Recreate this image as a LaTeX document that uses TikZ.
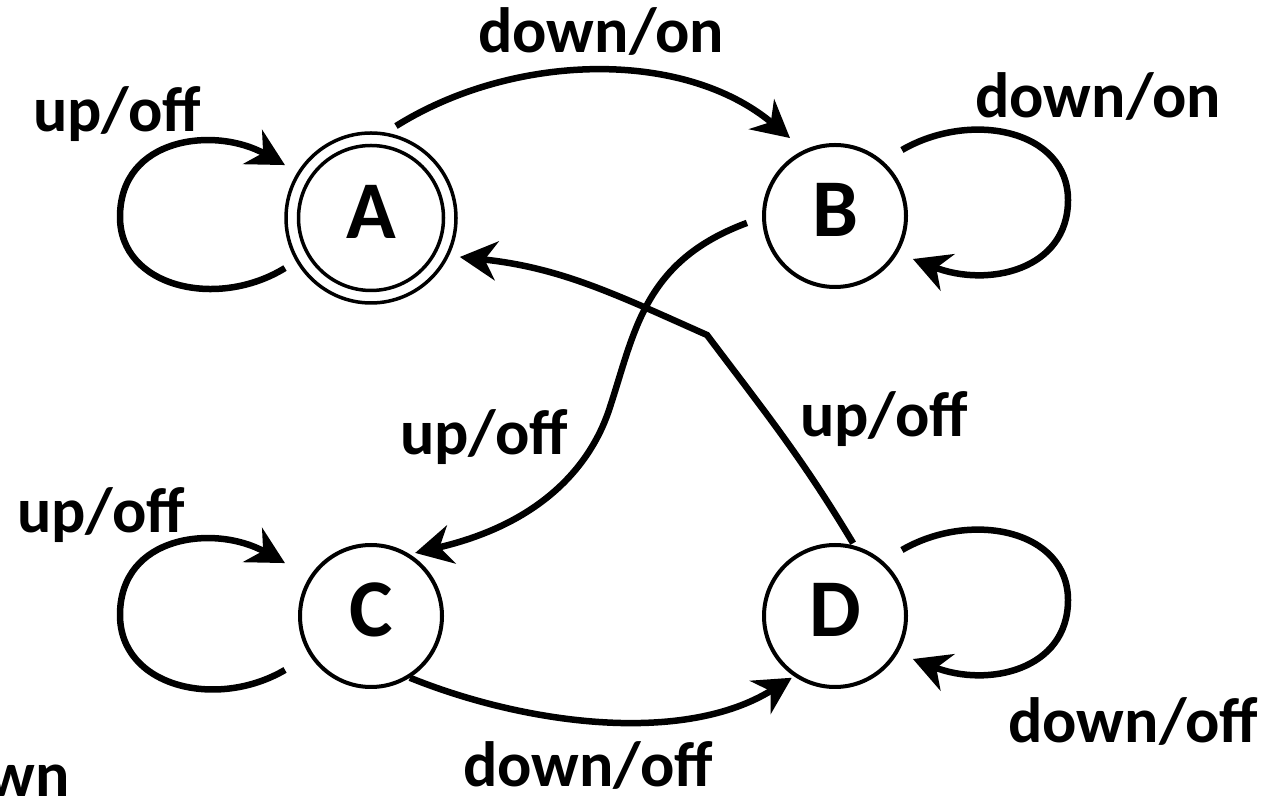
\documentclass[tikz,border=0pt]{standalone}
\usepackage{fontspec}
\setmainfont{Carlito}
\usetikzlibrary{arrows.meta}
\tikzset{
  state/.style={circle, draw, line width=4pt, minimum size=142pt, inner sep=0pt, outer sep=0pt,
    text height=53pt, text depth=12pt, font=\fontsize{82}{82}\selectfont\bfseries},
  edge/.style={line width=6.5pt, -{Stealth[length=37pt,width=39pt,inset=12pt]}},
  lbl/.style={font=\fontsize{64}{64}\selectfont\bfseries, anchor=base, inner sep=0pt}
}
\begin{document}
\begin{tikzpicture}[x=1pt,y=1pt]
\useasboundingbox (0,0) rectangle (1274,800);
\clip (0,0) rectangle (1274,800);
% states
\node[state, minimum size=170pt, line width=3.5pt] (A) at (371,582) {A};
\draw[line width=3.5pt] (A.center) circle (72.5pt);
\node[state] (B) at (835,584) {B};
\node[state] (C) at (371,184) {C};
\node[state] (D) at (835,184) {D};
% self loops
\draw[edge] ([shift={(210.2:99.5)}]A.center) .. controls (217,490) and (120,513) .. (120,583)
  .. controls (120,663) and (215,674) .. ([shift={(148.4:101)}]A.center);
\draw[edge] ([shift={(212.1:101.5)}]C.center) .. controls (217,90) and (120,113) .. (120,185)
  .. controls (120,265) and (215,276) .. ([shift={(148.4:101)}]C.center);
\draw[edge] ([shift={(44.6:94)}]B.center) .. controls (971,690) and (1068,670) .. (1068,600)
  .. controls (1068,530) and (988,512) .. ([shift={(-28.9:89)}]B.center);
\draw[edge] ([shift={(44.6:94)}]D.center) .. controls (971,290) and (1068,270) .. (1068,200)
  .. controls (1068,130) and (988,112) .. ([shift={(-28.9:89)}]D.center);
% transitions
\draw[edge] ([shift={(74.8:95.3)}]A.center) to[out=32, in=140, looseness=0.9] ([shift={(120:90)}]B.center);
\draw[edge] ([shift={(184.5:88.3)}]B.center) .. controls (644,539) and (635,469) .. (610,393)
  .. controls (598,355) and (561,281) .. ([shift={(55:77)}]C.center);
\coordinate (k1) at (707,465);
\draw[edge] ([shift={(76:75)}]D.center) to[out=121, in=-53] (k1) to[out=156, in=-6] ([shift={(-23.7:97)}]A.center);
\draw[edge] ([shift={(-57.8:73)}]C.center) to[out=-22, in=212, looseness=0.85] ([shift={(235:75.4)}]D.center);
% labels
\node[lbl] (l1) at (601,747) {down/on};
\node[lbl] (l2) at (117,668) {up/off};
\node[lbl] (l3) at (1098,682) {down/on};
\node[lbl] (l4) at (484,345) {up/off};
\node[lbl] (l5) at (884,363) {up/off};
\node[lbl] (l6) at (101,267) {up/off};
\node[lbl] (l7) at (1133,57) {down/off};
\node[lbl] (l8) at (588,13) {down/off};
\node[lbl, anchor=base east] (l9) at (70,3) {wn};
\end{tikzpicture}
\end{document}
